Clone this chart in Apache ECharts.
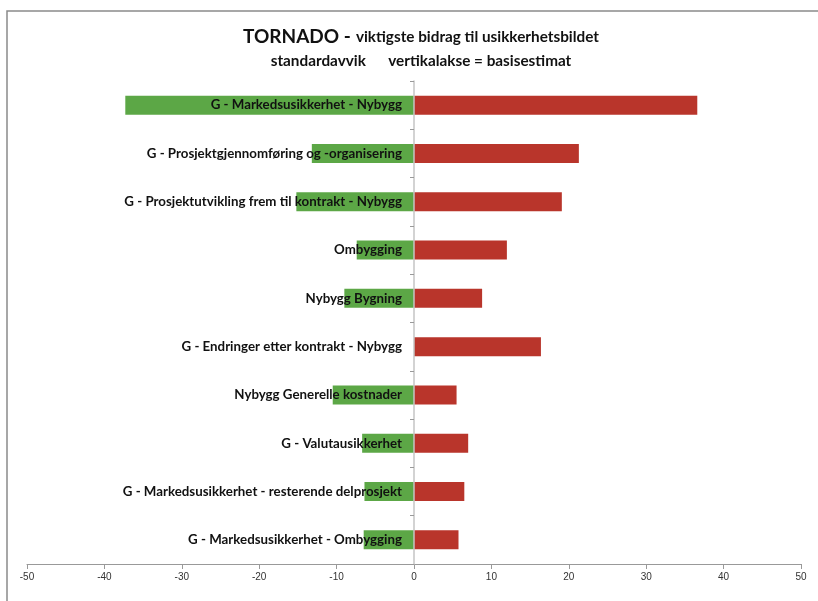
<!DOCTYPE html>
<html>
<head>
<meta charset="utf-8">
<script src="https://cdn.jsdelivr.net/npm/echarts@6/dist/echarts.min.js"></script>
<style>
  html, body { margin: 0; padding: 0; background: #fff; }
  #chart { width: 818px; height: 601px; }
</style>
</head>
<body>
<div id="chart"></div>
<script>
// Tornado: contribution of each uncertainty factor (standard deviation)
const categories = [
  'G - Markedsusikkerhet - Nybygg',
  'G - Prosjektgjennomføring og -organisering',
  'G - Prosjektutvikling frem til kontrakt - Nybygg',
  'Ombygging',
  'Nybygg Bygning',
  'G - Endringer etter kontrakt - Nybygg',
  'Nybygg Generelle kostnader',
  'G - Valutausikkerhet',
  'G - Markedsusikkerhet - resterende delprosjekt',
  'G - Markedsusikkerhet - Ombygging'
];
const lowValues  = [-37.3, -13.2, -15.2, -7.4, -9.0, 0, -10.5, -6.7, -6.4, -6.5];
const highValues = [36.6, 21.3, 19.1, 12.0, 8.8, 16.4, 5.5, 7.0, 6.5, 5.75];
const xTicks = { min: -50, max: 50, interval: 10 };

const chart = echarts.init(document.getElementById('chart'));
chart.setOption({
  animation: false,
  backgroundColor: '#fff',
  title: {
    text: '{a|TORNADO -} {b|viktigste bidrag til usikkerhetsbildet}\n{b|standardavvik      vertikalakse = basisestimat}',
    left: 416,
    textAlign: 'center',
    top: 20,
    textStyle: {
      rich: {
        a: { fontFamily: 'Lato', fontWeight: 'bold', fontSize: 19, color: '#111', lineHeight: 24 },
        b: { fontFamily: 'Lato', fontWeight: 'bold', fontSize: 15.3, color: '#111', lineHeight: 24 }
      }
    }
  },
  graphic: [
    { type: 'polyline', shape: { points: [[7, 601], [7, 11], [818, 11]] },
      style: { stroke: '#8a8a8a', lineWidth: 1.5, fill: null }, silent: true }
  ],
  grid: { left: 27, right: 17, top: 81, bottom: 37, containLabel: false, outerBoundsMode: 'none' },
  xAxis: {
    type: 'value',
    min: xTicks.min, max: xTicks.max, interval: xTicks.interval,
    axisLine: { show: true, onZero: false, lineStyle: { color: '#999', width: 1 } },
    axisTick: { show: true, length: 5, lineStyle: { color: '#999' } },
    splitLine: { show: false },
    axisLabel: { color: '#333', fontFamily: 'Liberation Sans', fontSize: 10, margin: 8 }
  },
  yAxis: {
    type: 'category',
    data: categories,
    inverse: true,
    z: 10,
    axisLine: { show: true, onZero: true, lineStyle: { color: '#c4c4c4', width: 1.5 } },
    axisTick: { show: true, length: 4, lineStyle: { color: '#999' } },
    axisLabel: { show: false }
  },
  series: [
    {
      name: 'lav', type: 'bar', stack: 'tornado', data: lowValues, barWidth: 19,
      itemStyle: { color: '#5ca746' },
      // category names sit just left of the zero axis, over the green bars
      label: {
        show: true, position: 'insideRight', distance: 12,
        formatter: '{b}', color: '#111',
        fontFamily: 'Lato', fontWeight: 'bold', fontSize: 13.3
      },
      z: 3
    },
    {
      name: 'høy', type: 'bar', stack: 'tornado', data: highValues, barWidth: 19,
      itemStyle: { color: '#b9352b' }
    }
  ]
});
</script>
</body>
</html>
